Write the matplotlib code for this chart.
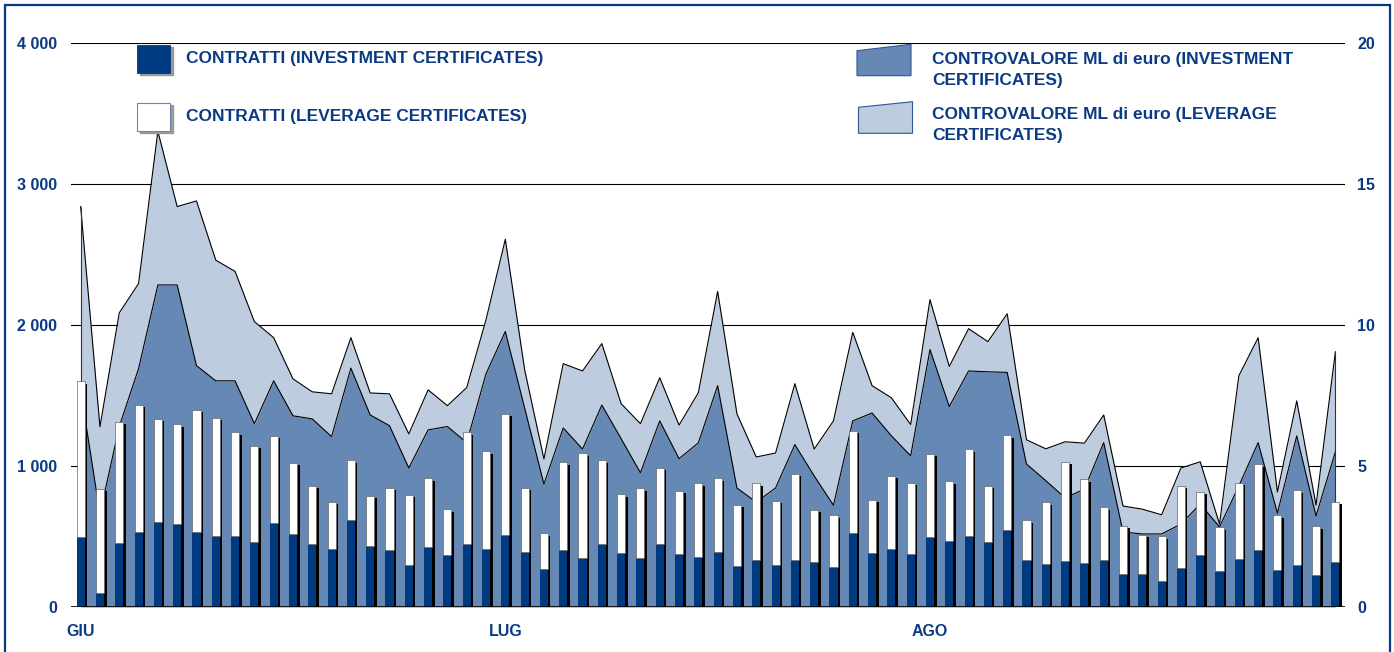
import numpy as np
import matplotlib
matplotlib.use('Agg')
import matplotlib.pyplot as plt
from matplotlib.patches import Rectangle, Polygon

plt.rcParams['font.family'] = ['Liberation Sans', 'DejaVu Sans']

# --- data ---
months = ['GIU', 'LUG', 'AGO']
month_idx = [0, 22, 44]

# contratti (left axis)
contr_inv = [495, 100, 455, 534, 606, 591, 529, 503, 503, 461, 597, 517, 446, 409, 614, 432,
             404, 301, 426, 372, 446, 409, 512, 387, 273, 401, 347, 446, 384, 350, 449, 375,
             355, 389, 290, 333, 296, 330, 321, 287, 523, 384, 409, 375, 500, 469, 506, 463,
             543, 333, 304, 327, 310, 333, 233, 236, 185, 276, 367, 253, 338, 404, 259, 299,
             225, 321]
contr_lev = [1108, 739, 858, 902, 730, 705, 870, 839, 737, 682, 617, 506, 413, 336, 427, 356,
             443, 495, 487, 322, 794, 697, 858, 460, 250, 625, 742, 595, 415, 494, 538, 449,
             521, 524, 435, 543, 457, 614, 370, 364, 728, 378, 523, 506, 586, 424, 614, 396,
             677, 284, 438, 702, 597, 375, 344, 276, 318, 583, 449, 313, 543, 608, 392, 531,
             346, 424]

# controvalore ML di euro (right axis)
ctv_inv = [7.7, 3.3, 6.4, 8.45, 11.42, 11.42, 8.56, 8.02, 8.02, 6.5, 8.02, 6.78, 6.67, 6.04,
           8.47, 6.81, 6.43, 4.93, 6.28, 6.4, 5.83, 8.27, 9.77, 7.06, 4.36, 6.35, 5.6, 7.16,
           5.97, 4.76, 6.6, 5.26, 5.82, 7.85, 4.22, 3.72, 4.22, 5.76, 4.65, 3.61, 6.6, 6.88,
           6.07, 5.36, 9.13, 7.11, 8.37, 8.34, 8.32, 5.07, 4.48, 3.87, 4.18, 5.83, 2.66, 2.59,
           2.59, 2.94, 3.65, 2.84, 4.29, 5.83, 3.33, 6.07, 3.23, 5.5]
ctv_lev = [6.5, 3.09, 4.03, 3.02, 5.45, 2.78, 5.84, 4.28, 3.88, 3.62, 1.53, 1.31, 0.96, 1.52,
           1.08, 0.78, 1.13, 1.21, 1.42, 0.74, 1.95, 1.92, 3.27, 1.36, 0.89, 2.28, 2.77, 2.18,
           1.24, 1.74, 1.53, 1.19, 1.78, 3.34, 2.63, 1.6, 1.24, 2.16, 0.95, 2.99, 3.14, 0.97,
           1.35, 1.11, 1.77, 1.42, 1.5, 1.07, 2.08, 0.86, 1.13, 1.99, 1.63, 0.98, 0.92, 0.88,
           0.68, 1.99, 1.5, 0.1, 3.91, 3.72, 0.75, 1.24, 0.38, 3.55]

left_ticks = [0, 1000, 2000, 3000, 4000]
left_labels = ['0', '1 000', '2 000', '3 000', '4 000']
right_ticks = [0, 5, 10, 15, 20]

navy = '#0B3A84'
c_dark = '#003A80'
c_mid = '#6688B4'
c_light = '#BECCE0'

W, H = 1394, 652
fig = plt.figure(figsize=(W / 100, H / 100), dpi=100)
fig.patch.set_facecolor('white')

ax = fig.add_axes([71 / W, 45 / H, 1274 / W, 564 / H])
ax2 = ax.twinx()
ax.set_zorder(ax2.get_zorder() + 1)
ax.patch.set_visible(False)

x = np.arange(len(contr_inv))
ci = np.array(contr_inv)
cl = np.array(contr_lev)
vi = np.array(ctv_inv)
vt = vi + np.array(ctv_lev)

# areas (right axis)
ax2.fill_between(x, 0, vi, color=c_mid, lw=0, zorder=2)
ax2.fill_between(x, vi, vt, color=c_light, lw=0, zorder=2)
ax2.plot(x, vi, color='black', lw=0.8, zorder=3)
ax2.plot(x, vt, color='black', lw=0.8, zorder=3)
ax2.vlines([x[0], x[-1]], 0, [vt[0], vt[-1]], color='#333333', lw=0.8, zorder=3)
ax2.set_ylim(0, 20)
ax2.set_yticks(right_ticks)
ax2.grid(axis='y', color='black', lw=0.8)
ax2.set_axisbelow(True)

# bars (left axis) with drop shadow
bw = 0.42
ax.bar(x + 0.13, ci + cl - 18, bw, color='black', zorder=2)
ax.bar(x, ci, bw, color=c_dark, lw=0, zorder=3)
ax.bar(x, cl, bw, bottom=ci, color='white', edgecolor='#666666', lw=0.5, zorder=3)
ax.set_ylim(0, 4000)
ax.set_xlim(-0.5, len(x) - 0.5)
ax.set_yticks(left_ticks, left_labels)
ax.set_xticks(month_idx, months)

for a in (ax, ax2):
    for s in a.spines.values():
        s.set_visible(False)
ax.axhline(0, color='black', lw=1.2, zorder=4)

ax.tick_params(axis='y', length=0, pad=10, labelsize=11.5, labelcolor=navy)
ax.tick_params(axis='x', length=0, pad=12, labelsize=11.5, labelcolor=navy)
ax2.tick_params(axis='y', length=0, pad=9, labelsize=11.5, labelcolor=navy)
for lab in ax.get_yticklabels() + ax.get_xticklabels() + ax2.get_yticklabels():
    lab.set_fontweight('bold')

# overlay in pixel coordinates: legend + frame
ov = fig.add_axes([0, 0, 1, 1], zorder=10)
ov.set_xlim(0, W)
ov.set_ylim(H, 0)
ov.axis('off')
ov.patch.set_visible(False)

ov.plot([5, 5, 1390, 1390], [H, 5, 5, H], color=navy, lw=1.6, solid_joinstyle='miter')

ov.add_patch(Rectangle((140, 47), 33, 28, color='#999999'))
ov.add_patch(Rectangle((137, 45), 33, 28, facecolor=c_dark, edgecolor=c_dark, lw=0.6))
ov.add_patch(Rectangle((140, 105), 33, 28, color='#999999'))
ov.add_patch(Rectangle((137, 102.5), 33, 28, facecolor='white', edgecolor='#6C86B0', lw=0.8))
ov.add_patch(Polygon([(857, 50.7), (911, 44.3), (911, 75.7), (857, 75.7)],
                     facecolor=c_mid, edgecolor='#2F5597', lw=0.8))
ov.add_patch(Polygon([(858.5, 107.3), (912.5, 101.7), (912.5, 133.3), (858.5, 133.3)],
                     facecolor=c_light, edgecolor='#2F5597', lw=0.8))

tkw = dict(fontsize=12.5, fontweight='bold', color=navy, va='baseline', ha='left')
ov.text(186, 63.5, 'CONTRATTI (INVESTMENT CERTIFICATES)', **tkw)
ov.text(186, 121, 'CONTRATTI (LEVERAGE CERTIFICATES)', **tkw)
ov.text(932, 64, 'CONTROVALORE ML di euro (INVESTMENT', **tkw)
ov.text(932, 84.5, 'CERTIFICATES)', **tkw)
ov.text(932, 119.5, 'CONTROVALORE ML di euro (LEVERAGE', **tkw)
ov.text(932, 140, 'CERTIFICATES)', **tkw)

fig.savefig('out.png', dpi=100)
